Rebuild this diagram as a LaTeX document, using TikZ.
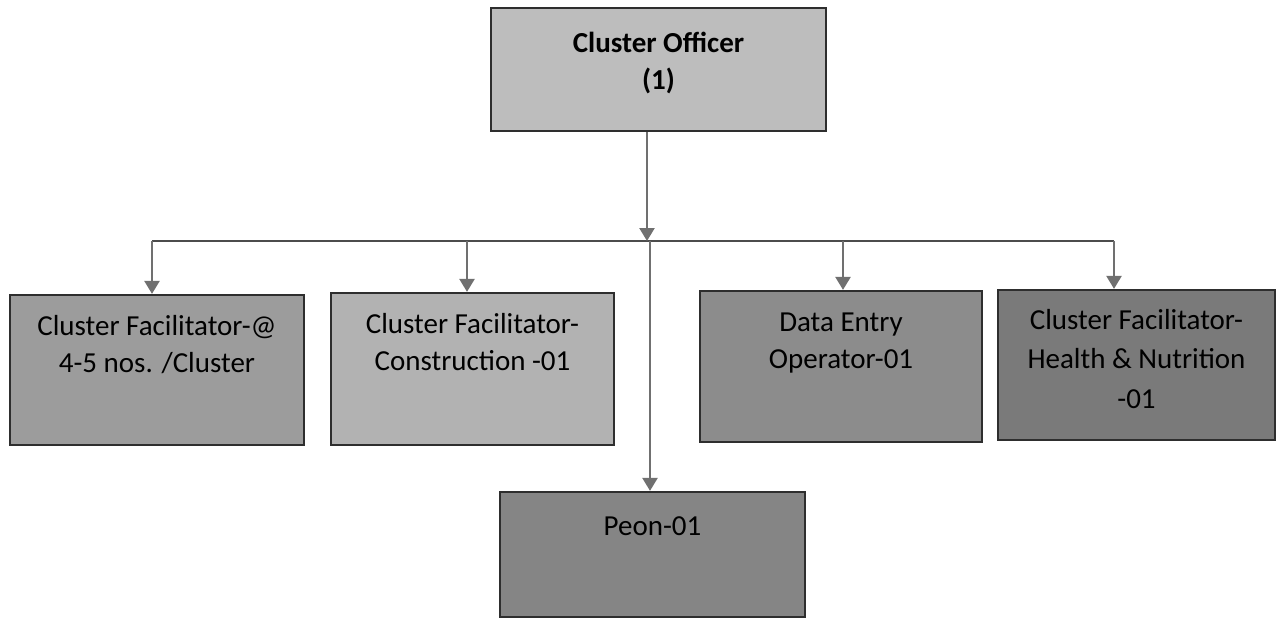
\documentclass[tikz,border=0pt]{standalone}
\usepackage{fontspec}
\setmainfont{Carlito}
\usetikzlibrary{arrows.meta}

\definecolor{boxline}{HTML}{2E2E2E}
\definecolor{linkgray}{HTML}{707070}
\tikzstyle{post}=[draw=boxline,line width=1.3pt,inner sep=0pt]
\tikzstyle{caption}=[anchor=north,align=center,inner sep=0pt,font=\fontsize{16.5}{21}\selectfont]
\tikzstyle{link} = [draw=linkgray,line width=1.4pt,-{Triangle[length=0.26cm,width=0.3cm]}]
\tikzstyle{bus} = [draw=black!70,line width=0.8pt]

\begin{document}
\begin{tikzpicture}[x=0.02cm,y=-0.02cm]
                              \useasboundingbox (0,0) rectangle (1277,618);
                              % First we draw the posts
                              \node[post,fill=black!26,minimum width=6.70cm,minimum height=2.46cm] (officer) at (658.5,69.5) {};
                              \node[post,fill=black!39,minimum width=5.88cm,minimum height=3.00cm] (fac) at (157,370) {};
                              \node[post,fill=black!30,minimum width=5.66cm,minimum height=3.04cm] (cons) at (472.5,369) {};
                              \node[post,fill=black!45,minimum width=5.64cm,minimum height=3.02cm] (deo) at (841,366.5) {};
                              \node[post,fill=black!52,minimum width=5.54cm,minimum height=3.00cm] (health) at (1136.5,365) {};
                              \node[post,fill=black!48,minimum width=6.10cm,minimum height=2.50cm] (peon) at (652.5,554.5) {};
                              % Then the texts at the top of each post
                              \node[caption,font=\fontsize{16.5}{21}\selectfont\bfseries] (officertxt) at ([yshift=-0.5cm]officer.north) {Cluster Officer\\(1)};
                              \node[caption] (factxt) at ([yshift=-0.42cm]fac.north) {Cluster Facilitator-@\\4-5 nos. /Cluster};
                              \node[caption] (constxt) at ([yshift=-0.42cm]cons.north) {Cluster Facilitator-\\Construction -01};
                              \node[caption] (deotxt) at ([yshift=-0.46cm]deo.north) {Data Entry\\Operator-01};
                              \node[caption,font=\fontsize{16.5}{22.5}\selectfont] (healthtxt) at ([yshift=-0.4cm]health.north) {Cluster Facilitator-\\Health \& Nutrition\\-01};
                              \node[caption] (peontxt) at ([yshift=-0.5cm]peon.north) {Peon-01};
                              % The bus and its taps
                              \coordinate (busleft) at (152,241);
                              \coordinate (busright) at (1114,241);
                              \coordinate (bustop) at (647,241);
                              \coordinate (busdown) at (650,241);
                              \coordinate (tapcons) at (467,241);
                              \coordinate (tapdeo) at (843,241);
                              \path[bus] (busleft) -- (busright);
                              \path[link] (officer.south -| bustop) -- (bustop);
                              \foreach \tap/\dest in {busleft/fac, tapcons/cons, tapdeo/deo, busright/health}
                              \path[link] (\tap) -- (\dest.north -| \tap);
                              \path[link] (busdown) -- (peon.north -| busdown);
                        \end{tikzpicture}
\end{document}
